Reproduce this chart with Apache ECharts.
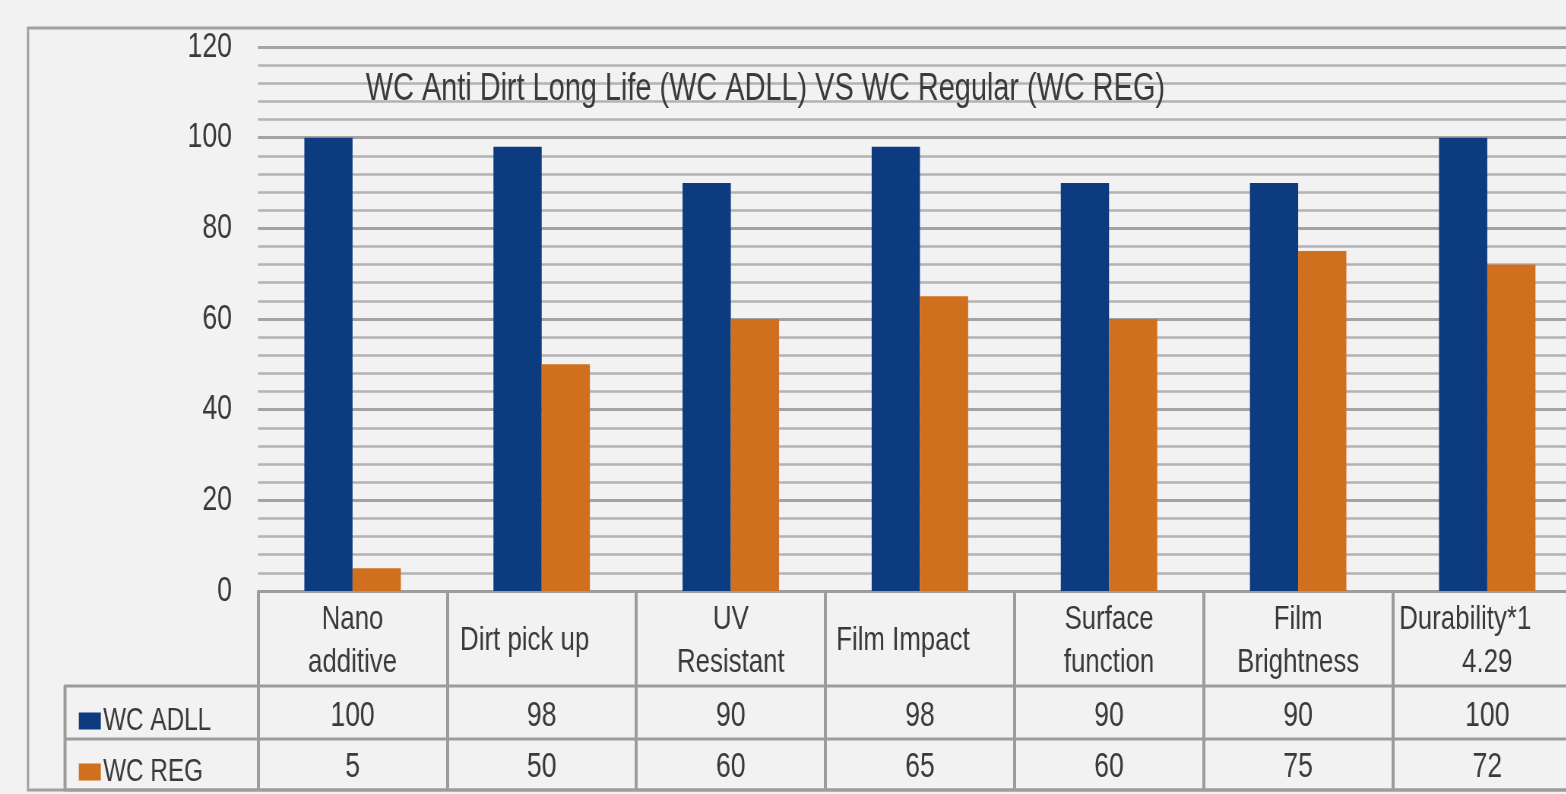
<!DOCTYPE html>
<html>
<head>
<meta charset="utf-8">
<script src="https://cdn.jsdelivr.net/npm/echarts@6/dist/echarts.min.js"></script>
<style>
html,body{margin:0;padding:0;background:#f2f2f2;overflow:hidden;width:1566px;height:794px;}
#wrap{width:1566px;height:794px;overflow:hidden;position:relative;}
#chart{position:absolute;left:0;top:0;height:794px;transform-origin:0 0;}
</style>
</head>
<body>
<div id="wrap"><div id="chart"></div></div>
<script>
const categories = ['Nano additive','Dirt pick up','UV Resistant','Film Impact','Surface function','Film Brightness','Durability*1 4.29'];
const headerLabels = ['Nano\nadditive','{s|Dirt pick up}','UV\nResistant','{s|Film Impact}','Surface\nfunction','Film\nBrightness','{d|Durability*1}\n4.29'];
const seriesNames = ['WC ADLL','WC REG'];
const adllValues = [100, 98, 90, 98, 90, 90, 100];
const regValues = [5, 50, 60, 65, 60, 75, 72];
const yTicks = [0, 20, 40, 60, 80, 100, 120];

// horizontal condensing of the whole drawing (reference uses a narrow typeface)
const S = 0.76;
const X = v => v / S;
const FULL_W = 1600;

const el = document.getElementById('chart');
el.style.width = X(FULL_W) + 'px';
el.style.transform = 'scaleX(' + S + ')';

const FONT = '"Liberation Sans",Arial,sans-serif';
const LINE = '#9c9c9c';
const TEXT = '#3a3a3a';

const chart = echarts.init(el, null, {renderer:'canvas'});

function valueAxis(values, margin){
  return {
    type:'category', gridIndex:0, position:'bottom', data:categories,
    axisLine:{show:false}, axisTick:{show:false}, splitLine:{show:false},
    axisLabel:{interval:0, margin:margin, verticalAlign:'middle', fontSize:35, fontFamily:FONT, color:TEXT,
      formatter:function(v,i){return String(values[i]);}}
  };
}

const labelStyle = {fontSize:34, fontFamily:FONT, color:TEXT, lineHeight:43};

const option = {
  backgroundColor:'#f2f2f2',
  animation:false,
  title:{
    text:'WC Anti Dirt Long Life (WC ADLL) VS WC Regular (WC REG)',
    left:X(362), top:66,
    textStyle:{fontSize:38, fontWeight:'normal', fontFamily:FONT, color:TEXT}
  },
  legend:{
    orient:'vertical', left:X(75), top:700, itemGap:19, itemWidth:X(22), itemHeight:17,
    icon:'rect', selectedMode:false,
    textStyle:{fontSize:32, fontFamily:FONT, color:TEXT, lineHeight:32, padding:[0,0,0,-2]},
    data:seriesNames
  },
  grid:{left:X(258), right:X(FULL_W) - X(1582), top:47, bottom:203, containLabel:false},
  xAxis:[
    {
      type:'category', data:categories, position:'bottom',
      axisLine:{lineStyle:{color:LINE, width:3}},
      axisTick:{show:true, alignWithLabel:false, length:200, lineStyle:{color:LINE, width:4}},
      splitLine:{show:false},
      axisLabel:{interval:0, margin:50, verticalAlign:'middle', align:'center', fontSize:34, lineHeight:43,
        fontFamily:FONT, color:TEXT,
        rich:{
          s:Object.assign({padding:[0,X(34),0,0]}, labelStyle),
          d:Object.assign({padding:[0,X(44),0,0]}, labelStyle)
        },
        formatter:function(v,i){return headerLabels[i];}}
    },
    valueAxis(adllValues, 125),
    valueAxis(regValues, 176)
  ],
  yAxis:{
    type:'value', min:yTicks[0], max:yTicks[yTicks.length-1], interval:20,
    axisLine:{show:false}, axisTick:{show:false},
    axisLabel:{fontSize:35, fontFamily:FONT, color:TEXT, margin:X(26)},
    splitLine:{lineStyle:{color:'#a3a3a3', width:3}},
    minorTick:{show:false, splitNumber:5},
    minorSplitLine:{show:true, lineStyle:{color:'#b3b3b3', width:2.5}}
  },
  series:[
    {name:seriesNames[0], type:'bar', data:adllValues, barGap:'0%', barCategoryGap:'49%',
     itemStyle:{color:'#0d3b80'}},
    {name:seriesNames[1], type:'bar', data:regValues,
     itemStyle:{color:'#d0701f'}}
  ],
  graphic:[
    {type:'rect', shape:{x:X(28), y:28, width:X(1600), height:762}, style:{fill:null, stroke:'#a0a0a0', lineWidth:3}, z:100},
    {type:'line', shape:{x1:X(64), y1:686, x2:X(1600), y2:686}, style:{stroke:LINE, lineWidth:3}, z:100},
    {type:'line', shape:{x1:X(64), y1:739, x2:X(1600), y2:739}, style:{stroke:LINE, lineWidth:3}, z:100},
    {type:'line', shape:{x1:X(64), y1:790, x2:X(1600), y2:790}, style:{stroke:LINE, lineWidth:3}, z:100},
    {type:'line', shape:{x1:X(65), y1:686, x2:X(65), y2:790}, style:{stroke:LINE, lineWidth:4}, z:100}
  ]
};
chart.setOption(option);
</script>
</body>
</html>
